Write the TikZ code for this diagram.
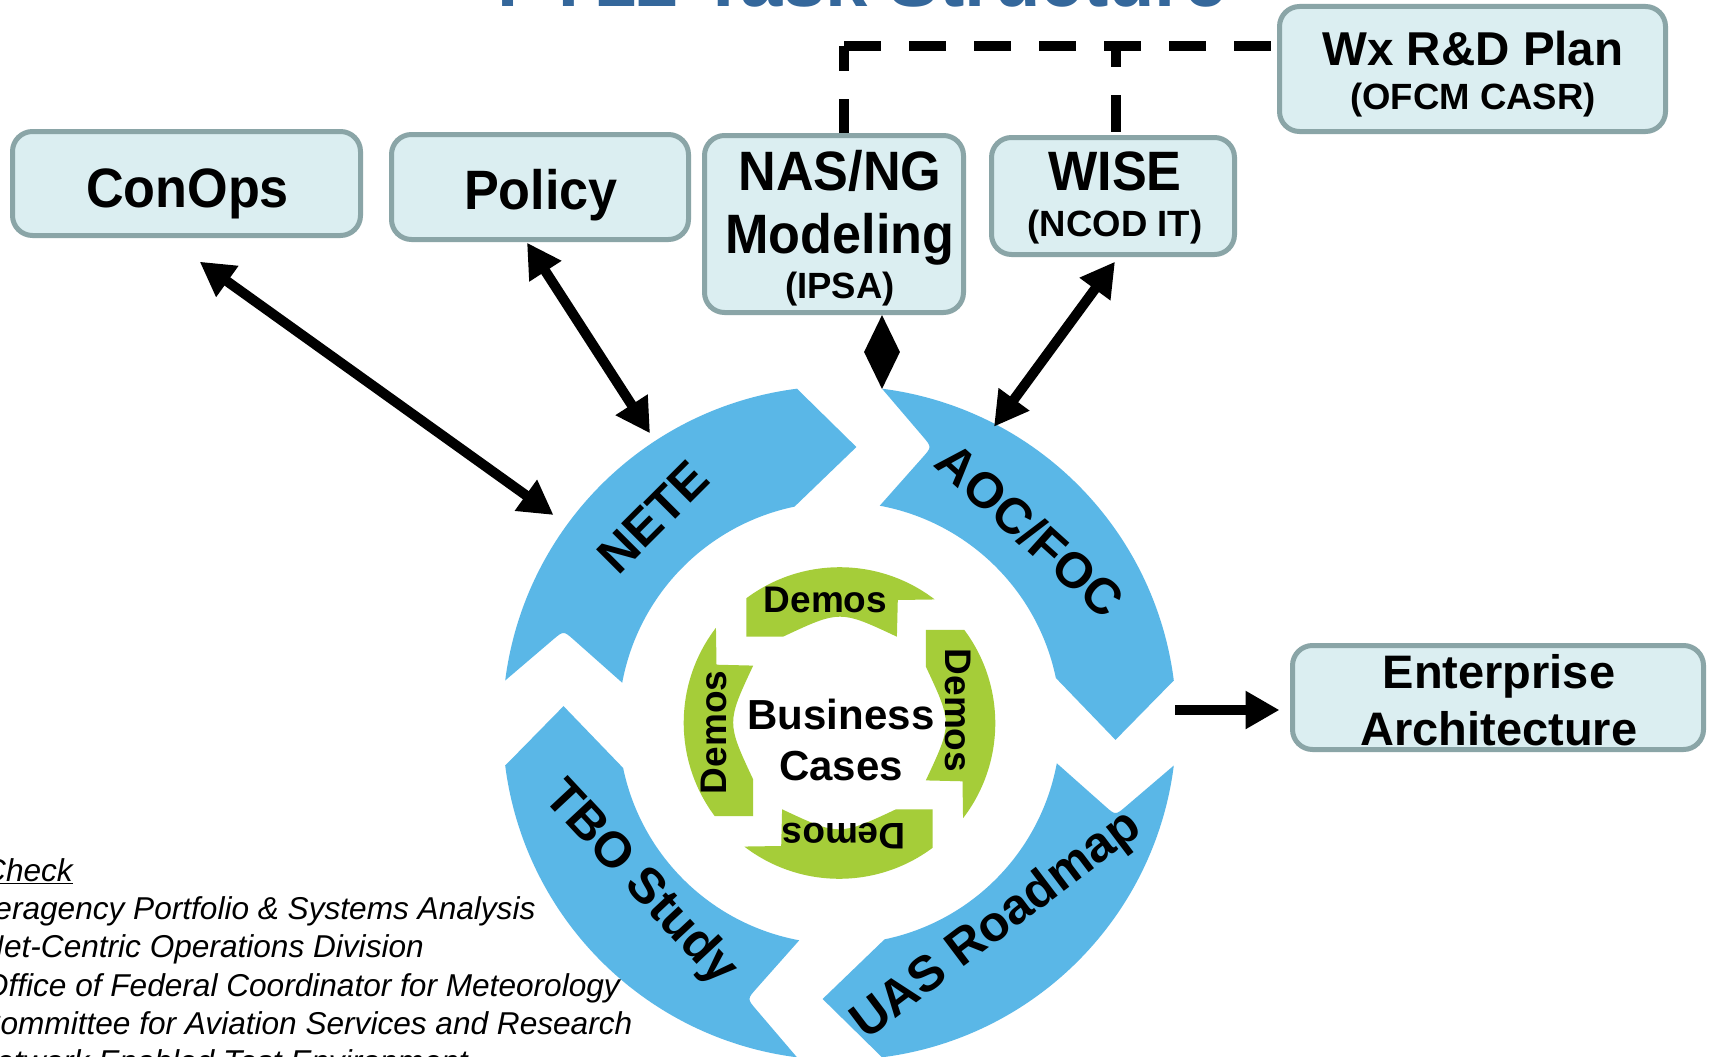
\documentclass[tikz,border=0pt]{standalone}
\usepackage{fontspec}
\setmainfont{Liberation Sans}
\newfontfamily\condfont[FakeStretch=0.94]{Liberation Sans}
\usetikzlibrary{arrows.meta,shapes.geometric}
\definecolor{boxfill}{RGB}{219,238,241}
\definecolor{boxline}{RGB}{138,165,167}
\definecolor{ringblue}{RGB}{90,183,231}
\definecolor{ringgreen}{RGB}{165,205,57}
\definecolor{titleblue}{RGB}{52,103,155}
\tikzset{
  taskbox/.style={draw=boxline, fill=boxfill, line width=5pt, rounded corners=20pt, inner sep=0pt},
  boxtext/.style={anchor=base, inner sep=0pt, text=black},
  bigfont/.style={font=\condfont\fontsize{55.5}{62}\selectfont\bfseries},
  subfont/.style={font=\fontsize{36.5}{44}\selectfont\bfseries},
  dblarrow/.style={line width=10pt, {Triangle[length=34pt,width=36pt]}-{Triangle[length=34pt,width=36pt]}},
  onearrow/.style={line width=10pt, -{Triangle[length=34pt,width=36pt]}},
  dashline/.style={line width=10pt, dash pattern=on 36.6pt off 28.4pt},
  ringlabel/.style={font=\fontsize{50}{60}\selectfont\bfseries, inner sep=0pt},
  demolabel/.style={font=\fontsize{37}{44}\selectfont\bfseries, inner sep=0pt},
  legendline/.style={font=\fontsize{31.6}{38}\selectfont\itshape, inner sep=0pt, anchor=base east},
}
\begin{document}
\begin{tikzpicture}[x=1pt,y=-1pt]
\useasboundingbox (0,0) rectangle (1714,1057);
\clip (0,0) rectangle (1714,1057);
\fill[white] (0,0) rectangle (1714,1057);

% title (mostly cut off at the top)
\node[anchor=base, inner sep=0pt, text=titleblue, font=\fontsize{76}{90}\selectfont\bfseries] (title) at (862,7) {FY12 Task Structure};

% boxes
\node[taskbox, minimum width=348pt, minimum height=104pt] (conops) at (186.5,183.5) {};
\node[taskbox, minimum width=297pt, minimum height=105pt] (policy) at (540,187) {};
\node[taskbox, minimum width=259pt, minimum height=177pt] (nas) at (834,224) {};
\node[taskbox, minimum width=243pt, minimum height=117pt] (wise) at (1113,196) {};
\node[taskbox, minimum width=386pt, minimum height=125pt] (wx) at (1472.5,69) {};
\node[taskbox, minimum width=411pt, minimum height=104pt] (ea) at (1498,697.5) {};

% box texts
\node[boxtext, bigfont] (conopst) at (187.5,207) {ConOps};
\node[boxtext, bigfont] (policyt) at (541,209) {Policy};
\node[boxtext, bigfont] (nast1) at (840,190) {NAS/NG};
\node[boxtext, bigfont] (nast2) at (840,253) {Modeling};
\node[boxtext, subfont] (nast3) at (840,298) {(IPSA)};
\node[boxtext, bigfont] (wiset1) at (1115,190) {WISE};
\node[boxtext, subfont] (wiset2) at (1115,236) {(NCOD IT)};
\node[boxtext, font=\fontsize{47.5}{57}\selectfont\bfseries] (wxt1) at (1473,65.5) {Wx R\&D Plan};
\node[boxtext, subfont] (wxt2) at (1473,110) {(OFCM CASR)};
\node[boxtext, font=\fontsize{47}{56}\selectfont\bfseries] (eat1) at (1499,688) {Enterprise};
\node[boxtext, font=\fontsize{47}{56}\selectfont\bfseries] (eat2) at (1499,745) {Architecture};

% dashed links to the Wx R&D plan
\coordinate (wxin) at (1277,46);
\coordinate (corner) at (844,46);
\coordinate (nastop) at (844,133);
\coordinate (wisetop) at (1116,135);
\draw[dashline] (corner) -- (wxin);
\draw[dashline, dash phase=12pt] (corner) -- (nastop);
\draw[dashline, dash phase=16pt] (wisetop |- wxin) -- (wisetop);

% blue ring of four curved arrows
\begin{scope}[shift={(839.5,723)}]
\foreach \r in {0,90,180,270}{
  \fill[ringblue, rotate=\r] (82.75:337pt) arc[start angle=82.75, end angle=7.25, radius=337pt]
    -- (-3.5:276.5pt) -- (11.75:221pt) arc[start angle=11.75, end angle=79.5, radius=221pt]
    -- (83.04pt,265.5pt) .. controls (92.33pt,275.97pt) .. (83.24pt,286.62pt) -- cycle;
}
\foreach \r in {0,-90,-180,-270}{
  \fill[ringgreen, rotate=\r] (-93.2,-124.7) arc[start angle=126.8, end angle=52.5, radius=156pt]
    -- (58.3,-123) -- (57.4,-86.3) .. controls (0.5,-113) .. (-56.5,-86.3) -- (-93.2,-86.3) -- cycle;
}
\end{scope}

% ring labels
\node[ringlabel, rotate=45] (nete) at (653,517) {NETE};
\node[ringlabel, rotate=-42] (aoc) at (1030,530) {AOC/FOC};
\node[ringlabel, rotate=37] (uas) at (997,926) {UAS Roadmap};
\node[ringlabel, rotate=-47] (tbo) at (640,884) {TBO Study};

\node[demolabel] (d1) at (825.5,599.5) {Demos};
\node[demolabel, rotate=-90] (d2) at (957.6,710.5) {Demos};
\node[demolabel, rotate=180] (d3) at (844,836) {Demos};
\node[demolabel, rotate=90] (d4) at (713.8,732.4) {Demos};

\node[align=center, inner sep=0pt, font=\fontsize{42}{51}\selectfont\bfseries] (bc) at (841,740) {Business\\Cases};

% connectors
\coordinate (c1a) at (199.7,261.7);
\coordinate (c1b) at (553.5,515);
\coordinate (c2a) at (527,242.7);
\coordinate (c2b) at (650,433.3);
\coordinate (c4a) at (1115,261.7);
\coordinate (c4b) at (994,426.7);
\coordinate (c5a) at (1175,710);
\coordinate (c5b) at (1279.5,710);
\draw[dblarrow] (c1a) -- (c1b);
\draw[dblarrow] (c2a) -- (c2b);
\draw[dblarrow] (c4a) -- (c4b);
\draw[onearrow] (c5a) -- (c5b);
\node[diamond, fill=black, inner sep=0pt, minimum width=36pt, minimum height=74pt] (dia) at (882,352) {};

% legend (cut off at the left)
\node[legendline] (l0) at (73,881) {\underline{Check}};
\node[legendline] (l1) at (535.6,919) {Interagency Portfolio \& Systems Analysis};
\node[legendline] (l2) at (424,957) {Net-Centric Operations Division};
\node[legendline] (l3) at (620,996) {Office of Federal Coordinator for Meteorology};
\node[legendline] (l4) at (632.5,1034) {Committee for Aviation Services and Research};
\node[legendline] (l5) at (468,1072) {Network Enabled Test Environment};
\end{tikzpicture}
\end{document}
